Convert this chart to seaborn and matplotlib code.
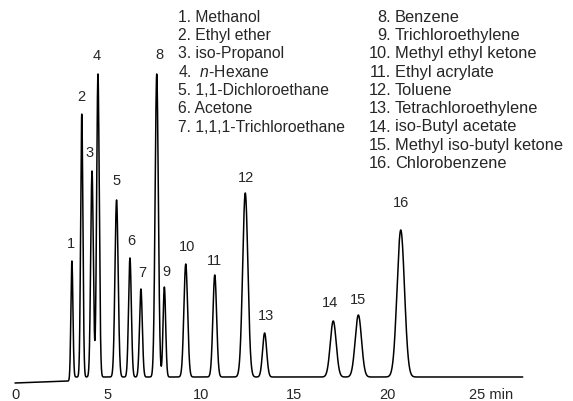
import numpy as np
import pandas as pd
import seaborn as sns
from matplotlib import pyplot as plt
from matplotlib.transforms import ScaledTranslation

sns.set_style('white')
plt.rcParams['font.family'] = ['Liberation Sans', 'DejaVu Sans']
plt.rcParams['mathtext.fontset'] = 'custom'
plt.rcParams['mathtext.it'] = 'Liberation Sans:italic'
plt.rcParams['mathtext.rm'] = 'Liberation Sans'

# peak table (retention time in min, height, width)
peak_no = list(range(1, 17))
peak_time = [3.06, 3.59, 4.14, 4.46, 5.46, 6.18, 6.77, 7.62,
             8.03, 9.18, 10.74, 12.38, 13.42, 17.11, 18.46, 20.74]
peak_height = [116, 263, 206, 303, 177, 119, 88, 303,
               90, 113, 102, 184, 44, 56, 62, 147]
peak_sigma = [0.054, 0.06, 0.07, 0.07, 0.085, 0.075, 0.075, 0.086,
              0.07, 0.10, 0.10, 0.14, 0.11, 0.16, 0.17, 0.20]

compounds = ['Methanol', 'Ethyl ether', 'iso-Propanol', ' $n$-Hexane',
             '1,1-Dichloroethane', 'Acetone', '1,1,1-Trichloroethane',
             'Benzene', 'Trichloroethylene', 'Methyl ethyl ketone',
             'Ethyl acrylate', 'Toluene', 'Tetrachloroethylene',
             'iso-Butyl acetate', 'Methyl iso-butyl ketone', 'Chlorobenzene']

# baseline levels before / after the solvent front
base_start, base_before, base_after, step_time = 1.0, 3.0, 7.0, 2.98
run_end = 27.3

tick_pos = [0, 5, 10, 15, 20, 25]
tick_lab = ['0', '5', '10', '15', '20', '25 min']

# build the trace
t = np.arange(0, run_end, 0.004)
pre = base_start + (base_before - base_start) * t / step_time
step = 1 / (1 + np.exp(-(t - step_time) / 0.015))
signal = pre * (1 - step) + base_after * step
for tr, h, s in zip(peak_time, peak_height, peak_sigma):
    signal = signal + h * np.exp(-0.5 * ((t - tr) / s) ** 2)
df = pd.DataFrame({'time': t, 'signal': signal})

fig = plt.figure(figsize=(5.73, 4.01), dpi=100)
ax = fig.add_axes([0, 17 / 401, 1, 384 / 401])
sns.lineplot(data=df, x='time', y='signal', color='black', lw=1.1,
             estimator=None, ax=ax)
ax.set_xlim(-15 / 18.6, 558 / 18.6)
ax.set_ylim(0, 384)
ax.set_xlabel('')
ax.set_ylabel('')
ax.set_yticks([])
ax.set_xticks(tick_pos)
ax.set_xticklabels(tick_lab, fontsize=10.5)
ax.tick_params(axis='x', length=0, pad=3)
last = ax.get_xticklabels()[-1]
last.set_horizontalalignment('left')
last.set_transform(last.get_transform() + ScaledTranslation(-0.11, 0, fig.dpi_scale_trans))
sns.despine(ax=ax, left=True, bottom=True)

# peak numbers above the peaks (pixel offsets)
label_dx = [-1, 0, -2, -1, 0, 1, 1, 3, 2, 1, 0, 1, 1, -3, 0, 0]
label_dy = [10, 10, 11, 11, 12, 10, 9, 12, 8, 10, 7, 8, 10, 11, 8, 20]
for n, tr, h, dx, dy in zip(peak_no, peak_time, peak_height, label_dx, label_dy):
    ax.annotate(str(n), (tr, h + base_after), xytext=(dx, dy),
                textcoords='offset pixels', ha='center', va='bottom',
                fontsize=10.5)

# compound list, two columns
row_h = 18.3
for i in range(7):
    fig.text(178 / 573, 1 - (21.7 + i * row_h) / 401,
             f'{peak_no[i]}. {compounds[i]}', fontsize=11.3, va='baseline')
for i in range(7, 16):
    y = 1 - (21.7 + (i - 7) * row_h) / 401
    fig.text(391 / 573, y, f'{peak_no[i]}.', fontsize=11.8, va='baseline', ha='right')
    fig.text(395 / 573, y, compounds[i], fontsize=11.8, va='baseline')

fig.savefig('out.png', dpi=100)
